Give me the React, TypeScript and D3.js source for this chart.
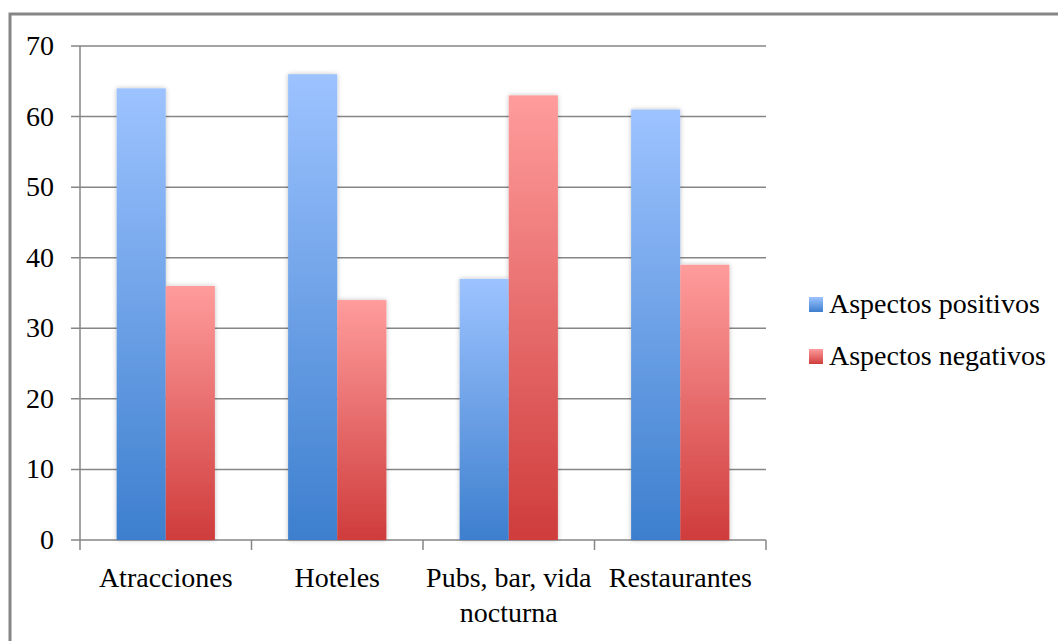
import React from "react";
import * as d3 from "d3";

const categories = ["Atracciones", "Hoteles", "Pubs, bar, vida nocturna", "Restaurantes"];
const categoryLines = [["Atracciones"], ["Hoteles"], ["Pubs, bar, vida", "nocturna"], ["Restaurantes"]];
const positivos = [64, 66, 37, 61];
const negativos = [36, 34, 63, 39];
const seriesNames = ["Aspectos positivos", "Aspectos negativos"];
const yTicks = [0, 10, 20, 30, 40, 50, 60, 70];

const W = 1058;
const H = 641;
const plot = { left: 80, right: 766, top: 46, bottom: 540 };
const textStyle: React.CSSProperties = { fontFamily: "Liberation Serif, serif", fontSize: 28 };

export default function App() {
  const x = d3.scaleBand<string>().domain(categories).range([plot.left, plot.right]).paddingInner(0).paddingOuter(0);
  const inner = d3.scaleBand<number>().domain([0, 1]).range([0, x.bandwidth()]).paddingOuter(0.745).paddingInner(0);
  const y = d3.scaleLinear().domain([0, 70]).range([plot.bottom, plot.top]);
  const series = [positivos, negativos];
  const gradIds = ["gradPos", "gradNeg"];
  const legendBase = [313, 365];

  return (
    <svg width={W} height={H} style={{ position: "absolute", left: 0, top: 0 }}>
      <defs>
        <linearGradient id="gradPos" x1="0" y1="0" x2="0" y2="1">
          <stop offset="0" stopColor="#9dc3ff" />
          <stop offset="1" stopColor="#3d7fce" />
        </linearGradient>
        <linearGradient id="gradNeg" x1="0" y1="0" x2="0" y2="1">
          <stop offset="0" stopColor="#ff9c9c" />
          <stop offset="1" stopColor="#cf3c3c" />
        </linearGradient>
        <filter id="shadow" x="-20%" y="-10%" width="140%" height="120%">
          <feGaussianBlur in="SourceAlpha" stdDeviation="2.5" />
          <feComponentTransfer>
            <feFuncA type="linear" slope="0.25" />
          </feComponentTransfer>
          <feMerge>
            <feMergeNode />
            <feMergeNode in="SourceGraphic" />
          </feMerge>
        </filter>
      </defs>
      <rect x={0} y={0} width={W} height={H} fill="#fff" />
      {/* outer frame */}
      <rect x={10} y={14} width={W + 10} height={H + 10} fill="none" stroke="#868686" strokeWidth={3} />

      {/* gridlines and value labels */}
      {yTicks.map((t) => (
        <g key={t}>
          <line x1={plot.left - 9} x2={plot.right} y1={y(t)} y2={y(t)} stroke="#868686" strokeWidth={1.5} />
          <text x={54} y={y(t) + 9} textAnchor="end" style={textStyle} fill="#000">
            {t}
          </text>
        </g>
      ))}
      {/* y axis */}
      <line x1={plot.left} x2={plot.left} y1={plot.top} y2={plot.bottom + 10} stroke="#868686" strokeWidth={1.5} />
      {/* category ticks */}
      {categories.map((c) => (
        <line key={c} x1={(x(c) as number) + x.bandwidth()} x2={(x(c) as number) + x.bandwidth()} y1={plot.bottom} y2={plot.bottom + 10} stroke="#868686" strokeWidth={1.5} />
      ))}

      {/* bars */}
      {categories.map((c, i) => (
        <g key={c} filter="url(#shadow)">
          {series.map((s, k) => (
            <rect
              key={k}
              x={(x(c) as number) + (inner(k) as number)}
              y={y(s[i])}
              width={inner.bandwidth()}
              height={y(0) - y(s[i])}
              fill={`url(#${gradIds[k]})`}
            />
          ))}
        </g>
      ))}

      {/* category labels */}
      {categories.map((c, i) => (
        <text key={c} textAnchor="middle" style={textStyle} fill="#000">
          {categoryLines[i].map((line, j) => (
            <tspan key={j} x={(x(c) as number) + x.bandwidth() / 2} y={587 + j * 35}>
              {line}
            </tspan>
          ))}
        </text>
      ))}

      {/* legend */}
      {seriesNames.map((n, k) => (
        <g key={n}>
          <rect x={809} y={legendBase[k] - 16} width={14} height={15} fill={`url(#${gradIds[k]})`} />
          <text x={829} y={legendBase[k]} style={textStyle} fill="#000">
            {n}
          </text>
        </g>
      ))}
    </svg>
  );
}
